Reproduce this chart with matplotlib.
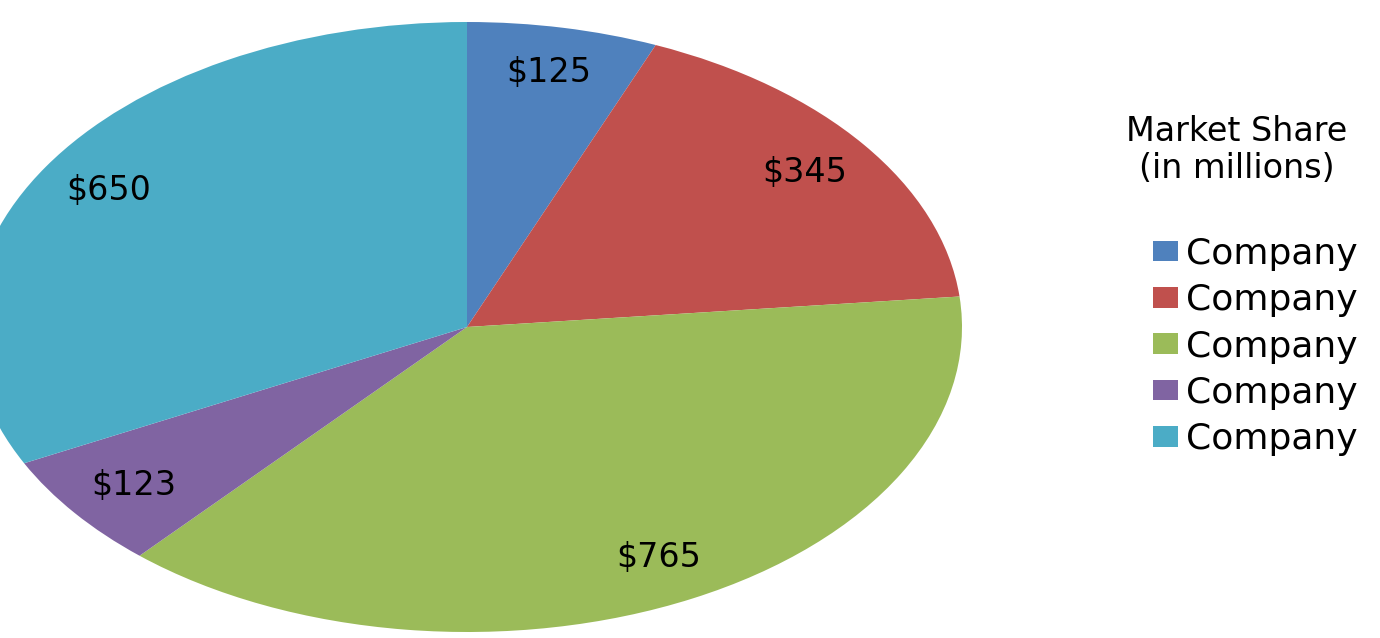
import matplotlib.pyplot as plt

plt.rcParams["font.family"] = ["DejaVu Sans"]

# 数据
companies = ["Company", "Company", "Company", "Company", "Company"]
values = [125, 345, 765, 123, 650]
colors = ["#4F81BD", "#C0504D", "#9BBB59", "#8064A2", "#4BACC6"]
total = sum(values)

W, H = 1380, 638
fig = plt.figure(figsize=(W / 100, H / 100), dpi=100)

# 饼图区域（横向拉伸成椭圆）
left, right, top, bottom = -28, 962, 22, 632
ax = fig.add_axes([left / W, (H - bottom) / H, (right - left) / W, (bottom - top) / H])
wedges, texts, autotexts = ax.pie(
    values,
    colors=colors,
    startangle=90,
    counterclock=False,
    autopct=lambda p: f"${round(p * total / 100)}",
    pctdistance=0.85,
    wedgeprops=dict(linewidth=0),
    textprops=dict(fontsize=24, color="black"),
)
ax.set_aspect("auto")
ax.set_xlim(-1, 1)
ax.set_ylim(-1, 1)
ax.axis("off")

# 图例标题
fig.text(1237 / W, 1 - 150 / H, "Market Share\n(in millions)", ha="center", va="center",
         fontsize=24, linespacing=1.15)

leg = fig.legend(
    wedges, companies,
    loc="upper left",
    bbox_to_anchor=(1153 / W, 1 - 237 / H),
    frameon=False,
    fontsize=26,
    handlelength=0.7,
    handleheight=0.5,
    handletextpad=0.22,
    labelspacing=0.34,
    borderaxespad=0,
    borderpad=0,
)

fig.savefig("out.png", dpi=100)
